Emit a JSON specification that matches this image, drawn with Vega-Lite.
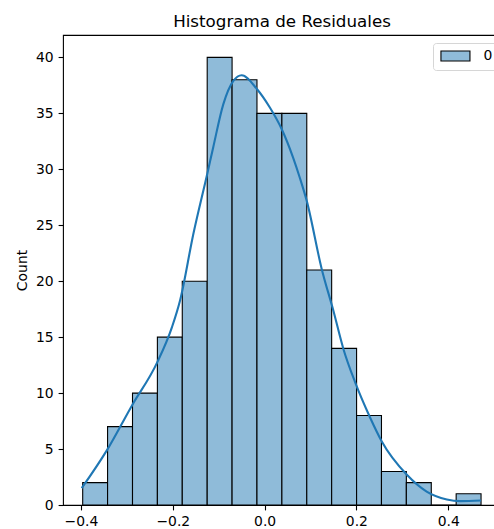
{
  "$schema": "https://vega.github.io/schema/vega-lite/v6.json",
  "width": 432,
  "height": 470,
  "autosize": {"type": "none"},
  "padding": {"left": 63, "top": 35, "right": 0, "bottom": 24},
  "background": "white",
  "title": {
    "text": "Histograma de Residuales",
    "font": "DejaVu Sans",
    "fontSize": 16.7,
    "fontWeight": "normal",
    "color": "#000",
    "anchor": "middle",
    "baseline": "alphabetic",
    "offset": 8,
    "dx": 3,
    "dy": 17
  },
  "config": {
    "view": {"stroke": "#000", "strokeWidth": 1.1},
    "axis": {
      "domain": false,
      "grid": false,
      "labelFont": "DejaVu Sans",
      "labelFontSize": 13.9,
      "labelColor": "#000",
      "tickColor": "#000",
      "tickSize": 4.9,
      "tickWidth": 1.1,
      "labelPadding": 4.9,
      "titleFont": "DejaVu Sans",
      "titleFontSize": 13.9,
      "titleFontWeight": "normal",
      "titleColor": "#000"
    }
  },
  "datasets": {
    "bins": [
      {"start": -0.3962, "end": -0.3420, "count": 2},
      {"start": -0.3420, "end": -0.2877, "count": 7},
      {"start": -0.2877, "end": -0.2335, "count": 10},
      {"start": -0.2335, "end": -0.1793, "count": 15},
      {"start": -0.1793, "end": -0.1250, "count": 20},
      {"start": -0.1250, "end": -0.0708, "count": 40},
      {"start": -0.0708, "end": -0.0166, "count": 38},
      {"start": -0.0166, "end": 0.0377, "count": 35},
      {"start": 0.0377, "end": 0.0919, "count": 35},
      {"start": 0.0919, "end": 0.1461, "count": 21},
      {"start": 0.1461, "end": 0.2004, "count": 14},
      {"start": 0.2004, "end": 0.2546, "count": 8},
      {"start": 0.2546, "end": 0.3088, "count": 3},
      {"start": 0.3088, "end": 0.3631, "count": 2},
      {"start": 0.3631, "end": 0.4173, "count": 0},
      {"start": 0.4173, "end": 0.4715, "count": 1}
    ],
    "kde": [
      {"x": -0.3984, "y": 1.5},
      {"x": -0.3433, "y": 4.9},
      {"x": -0.2888, "y": 8.9},
      {"x": -0.2344, "y": 12.7},
      {"x": -0.2017, "y": 15.9},
      {"x": -0.184, "y": 18.3},
      {"x": -0.1553, "y": 24.2},
      {"x": -0.1243, "y": 29.7},
      {"x": -0.1117, "y": 32.0},
      {"x": -0.090, "y": 35.8},
      {"x": -0.068, "y": 37.9},
      {"x": -0.050, "y": 38.4},
      {"x": -0.0172, "y": 37.2},
      {"x": 0.0118, "y": 35.5},
      {"x": 0.0372, "y": 33.6},
      {"x": 0.0625, "y": 31.0},
      {"x": 0.0771, "y": 29.2},
      {"x": 0.0917, "y": 27.2},
      {"x": 0.1244, "y": 21.1},
      {"x": 0.1496, "y": 17.4},
      {"x": 0.172, "y": 13.9},
      {"x": 0.1969, "y": 11.0},
      {"x": 0.230, "y": 7.8},
      {"x": 0.255, "y": 5.7},
      {"x": 0.310, "y": 2.7},
      {"x": 0.353, "y": 1.2},
      {"x": 0.397, "y": 0.5},
      {"x": 0.426, "y": 0.35},
      {"x": 0.4715, "y": 0.4}
    ]
  },
  "layer": [
    {
      "data": {"name": "bins"},
      "mark": {"type": "bar", "stroke": "#000", "strokeWidth": 1.1, "opacity": 1},
      "encoding": {
        "x": {
          "field": "start",
          "type": "quantitative",
          "scale": {"domain": [-0.4391, 0.5019], "nice": false, "zero": false},
          "axis": {"title": null, "values": [-0.4, -0.2, 0, 0.2, 0.4], "format": ".1f"}
        },
        "x2": {"field": "end"},
        "y": {
          "field": "count",
          "type": "quantitative",
          "scale": {"domain": [0, 42], "nice": false},
          "axis": {"title": "Count", "values": [0, 5, 10, 15, 20, 25, 30, 35, 40], "format": "d", "titlePadding": 6}
        },
        "y2": {"datum": 0},
        "color": {
          "datum": "0",
          "type": "nominal",
          "scale": {"range": ["#8fbbd9"]},
          "legend": {
            "title": null,
            "orient": "none",
            "legendX": 370,
            "legendY": 8,
            "padding": 6,
            "strokeColor": "#d6d6d6",
            "fillColor": "#ffffff",
            "cornerRadius": 3,
            "symbolType": "M-2.9,-1H2.9V1H-2.9Z",
            "symbolSize": 100,
            "symbolOffset": 9.5,
            "symbolStrokeColor": "#000",
            "symbolStrokeWidth": 1.1,
            "symbolOpacity": 1,
            "labelFont": "DejaVu Sans",
            "labelFontSize": 13.9,
            "labelColor": "#000",
            "labelOffset": 21
          }
        }
      }
    },
    {
      "data": {"name": "kde"},
      "mark": {"type": "line", "color": "#1f77b4", "strokeWidth": 2.1, "interpolate": "monotone"},
      "encoding": {
        "x": {"field": "x", "type": "quantitative"},
        "y": {"field": "y", "type": "quantitative"}
      }
    }
  ]
}
